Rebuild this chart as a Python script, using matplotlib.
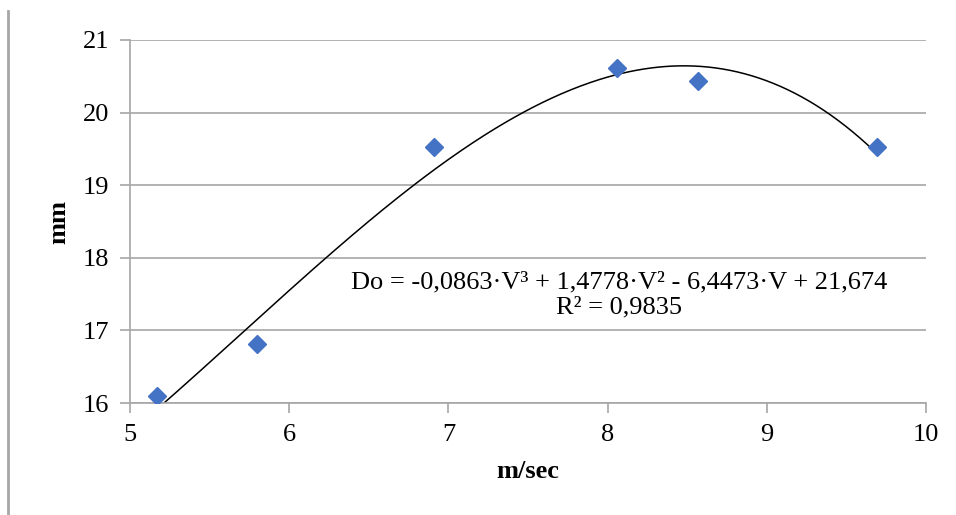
import numpy as np
import matplotlib.pyplot as plt
from matplotlib.lines import Line2D

plt.rcParams['font.family'] = ['Liberation Serif', 'DejaVu Serif']

# measured points
speed = [5.17, 5.80, 6.91, 8.06, 8.57, 9.69]      # m/sec
diameter = [16.10, 16.81, 19.52, 20.61, 20.43, 19.52]  # mm

# cubic trendline coefficients (highest power first), as printed on the chart
coefs = [-0.0863, 1.4778, -6.4473, 21.674]
r2 = 0.9835

x_ticks = [5, 6, 7, 8, 9, 10]
y_ticks = [16, 17, 18, 19, 20, 21]

fig = plt.figure(figsize=(9.56, 5.15), dpi=100)
ax = fig.add_axes([130/956, 1 - 403/515, (926 - 130)/956, (403 - 40)/515])

grey = '#a6a6a6'
fs = 19

# trendline over the data range
v = np.linspace(min(speed), max(speed), 300)
ax.plot(v, np.polyval(coefs, v), color='black', lw=1.1, zorder=2)

ax.plot(speed, diameter, linestyle='none', marker='D', ms=9.5,
        color='#4472C4', zorder=3)

ax.set_xlim(5, 10)
ax.set_ylim(16, 21)
ax.set_xticks(x_ticks)
ax.set_yticks(y_ticks)
ax.grid(axis='y', color=grey, lw=1.2)
ax.set_axisbelow(True)

for s in ['top', 'right']:
    ax.spines[s].set_visible(False)
for s in ['left', 'bottom']:
    ax.spines[s].set_color(grey)
    ax.spines[s].set_linewidth(1.2)

ax.tick_params(axis='both', colors=grey, labelcolor='black', labelsize=fs,
               length=7, width=1.2, direction='out')
ax.tick_params(axis='x', pad=8)
ax.tick_params(axis='y', pad=8)

ax.set_xlabel('m/sec', fontsize=fs, fontweight='bold', labelpad=10)
ax.set_ylabel('mm', fontsize=fs, fontweight='bold', labelpad=9)

eq = 'Do = -0,0863·V³ + 1,4778·V² - 6,4473·V + 21,674'
ax.text(8.07, 17.66, eq, fontsize=fs, ha='center', va='center', zorder=4)
ax.text(8.07, 17.32, 'R² = ' + str(r2).replace('.', ','), fontsize=fs,
        ha='center', va='center', zorder=4)

# left frame line of the original figure
fig.add_artist(Line2D([7.5/956, 7.5/956], [0, 1 - 11/515],
                      transform=fig.transFigure, color=grey, lw=2))

fig.savefig('out.png', dpi=100)
